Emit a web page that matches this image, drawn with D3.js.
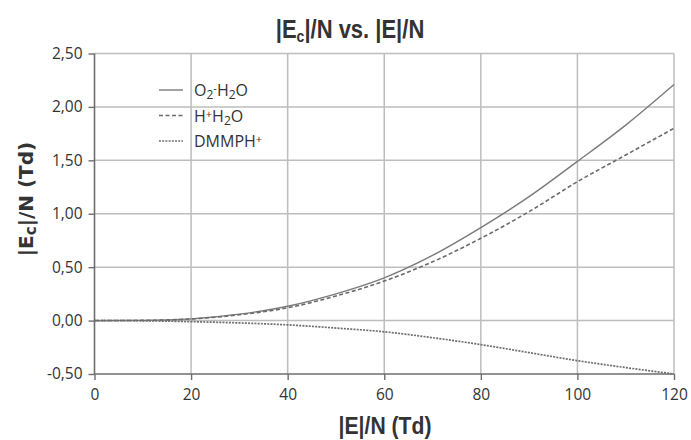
<!DOCTYPE html>
<html>
<head>
<meta charset="utf-8">
<script src="https://cdn.jsdelivr.net/npm/d3@7"></script>
<style>
  body { margin: 0; background: #fff; }
  text { fill: #333; }
</style>
</head>
<body>
<div id="chart"></div>
<script>
// Data
const xValues = [0, 10, 20, 30, 40, 50, 60, 70, 80, 90, 100, 110, 120];
const o2H2O = [0, 0.002, 0.016, 0.06, 0.134, 0.25, 0.40, 0.61, 0.87, 1.16, 1.49, 1.83, 2.21];
const hH2O = [0, 0.002, 0.015, 0.055, 0.12, 0.23, 0.37, 0.55, 0.77, 1.02, 1.30, 1.55, 1.80];
const dmmph = [0, -0.002, -0.01, -0.022, -0.04, -0.07, -0.105, -0.16, -0.225, -0.30, -0.375, -0.44, -0.50];
const xTicks = [0, 20, 40, 60, 80, 100, 120];
const yTicks = [-0.5, 0, 0.5, 1, 1.5, 2, 2.5];

const width = 691, height = 440;
const margin = { top: 53.5, right: 17, bottom: 66, left: 94.5 };

const svg = d3.select("#chart").append("svg")
    .attr("width", width)
    .attr("height", height);

const x = d3.scaleLinear().domain([0, 120]).range([margin.left, width - margin.right]);
const y = d3.scaleLinear().domain([-0.5, 2.5]).range([height - margin.bottom, margin.top]);

// gridlines
svg.append("g")
    .selectAll("line.v")
    .data(xTicks.slice(1))
    .enter().append("line")
    .attr("x1", d => x(d)).attr("x2", d => x(d))
    .attr("y1", y(2.5)).attr("y2", y(-0.5))
    .attr("stroke", "#bdbdbd").attr("stroke-width", 1.5);
svg.append("g")
    .selectAll("line.h")
    .data(yTicks.slice(1))
    .enter().append("line")
    .attr("x1", x(0)).attr("x2", x(120))
    .attr("y1", d => y(d)).attr("y2", d => y(d))
    .attr("stroke", "#bdbdbd").attr("stroke-width", 1.5);

const fmt = d => d3.format(".2f")(d).replace(".", ",").replace("−", "-");

// axes
const yAxis = svg.append("g")
    .attr("transform", `translate(${x(0)},0)`)
    .call(d3.axisLeft(y).tickValues(yTicks).tickFormat(fmt).tickSize(6).tickPadding(6));
const xAxis = svg.append("g")
    .attr("transform", `translate(0,${y(-0.5)})`)
    .call(d3.axisBottom(x).tickValues(xTicks).tickSize(6).tickPadding(9));
[yAxis, xAxis].forEach(a => {
    a.select(".domain").attr("stroke", "#6e6e6e").attr("stroke-width", 1.6);
    a.selectAll(".tick line").attr("stroke", "#6e6e6e").attr("stroke-width", 1.4);
    a.selectAll(".tick text")
        .style("font-family", "'Open Sans', sans-serif")
        .style("font-size", "15.5px")
        .attr("fill", "#333");
});
xAxis.select(".domain").attr("d", `M${x(0)},0H${x(120)}`);
yAxis.select(".domain").attr("d", `M0,${y(-0.5)}V${y(2.5)}`);

// lines
const series = [
    { name: "o2", values: o2H2O, dash: null, color: "#7a7a7a", w: 1.4 },
    { name: "h", values: hH2O, dash: "4,2.5", color: "#6a6a6a", w: 1.6 },
    { name: "dmmph", values: dmmph, dash: "2,1.2", color: "#6e6e6e", w: 1.7 }
];
const line = d3.line()
    .x((d, i) => x(xValues[i]))
    .y(d => y(d))
    .curve(d3.curveMonotoneX);
svg.selectAll(".series")
    .data(series)
    .enter().append("path")
    .attr("class", "series")
    .attr("d", d => line(d.values))
    .attr("fill", "none")
    .attr("stroke", d => d.color)
    .attr("stroke-width", d => d.w)
    .attr("stroke-dasharray", d => d.dash);

// legend
const legend = svg.append("g").attr("transform", "translate(159,90)");
const legendItems = [
    [["O", 0], ["2", 1], ["-", 2], ["H", 0], ["2", 1], ["O", 0]],
    [["H", 0], ["+", 2], ["H", 0], ["2", 1], ["O", 0]],
    [["DMMPH", 0], ["+", 2]]
];
legendItems.forEach((parts, i) => {
    const g = legend.append("g").attr("transform", `translate(0,${i * 25.5})`);
    g.append("line")
        .attr("x1", 0).attr("x2", 24)
        .attr("stroke", series[i].color)
        .attr("stroke-width", 1.4)
        .attr("stroke-dasharray", series[i].dash);
    const t = g.append("text")
        .attr("x", 35).attr("y", 6)
        .style("font-family", "'Open Sans', sans-serif")
        .style("font-size", "16px");
    parts.forEach(p => {
        const s = t.append("tspan").text(p[0]);
        if (p[1] === 1) s.attr("baseline-shift", "-25%").style("font-size", "12px");
        if (p[1] === 2) s.attr("baseline-shift", "35%").style("font-size", "11px");
    });
});

// title
const title = svg.append("text")
    .attr("transform", "translate(350,38) scale(0.88,1)")
    .attr("text-anchor", "middle")
    .style("font-family", "'Liberation Sans', Arial, sans-serif")
    .style("font-weight", "bold")
    .style("font-size", "25px")
    .attr("fill", "#222");
title.append("tspan").text("|E");
title.append("tspan").text("c").attr("baseline-shift", "-25%").style("font-size", "16px");
title.append("tspan").text("|/N vs. |E|/N");

// x axis title
svg.append("text")
    .attr("transform", "translate(385,434) scale(0.92,1)")
    .attr("text-anchor", "middle")
    .style("font-family", "'Liberation Sans', Arial, sans-serif")
    .style("font-weight", "bold")
    .style("font-size", "23px")
    .attr("fill", "#222")
    .text("|E|/N (Td)");

// y axis title
const yt = svg.append("text")
    .attr("transform", "translate(33,199) rotate(-90)")
    .attr("text-anchor", "middle")
    .style("font-family", "'DejaVu Sans', sans-serif")
    .style("font-weight", "bold")
    .style("font-size", "20px")
    .attr("fill", "#222");
yt.append("tspan").text("|E");
yt.append("tspan").text("c").attr("baseline-shift", "-20%").style("font-size", "15px");
yt.append("tspan").text("|/N (Td)");
</script>
</body>
</html>
